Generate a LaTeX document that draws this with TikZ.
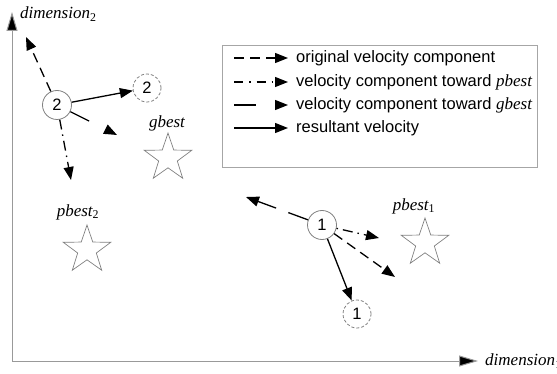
\documentclass[tikz,border=0pt]{standalone}
\usepackage{fontspec}
\setmainfont{Liberation Sans}
\newfontfamily\tms{Liberation Serif}
\usetikzlibrary{arrows.meta,shapes.geometric}
\tikzset{
  x=1pt, y=-1pt,
  axisline/.style={draw=gray!80, line width=1pt, -{Triangle[length=19pt,width=11pt,fill=black]}},
  particle/.style={circle, draw=gray, line width=0.8pt, fill=white, minimum size=29pt, inner sep=0pt, font=\fontsize{16.5}{18}\selectfont},
  ghost/.style={particle, dashed, dash pattern=on 3pt off 2pt, minimum size=28pt},
  beststar/.style={star, star points=5, star point ratio=2.55, draw=gray, line width=0.7pt, minimum size=50pt, inner sep=0pt},
  itlab/.style={font=\fontsize{17}{19}\selectfont\tms\itshape},
  vec/.style={line width=1.3pt, -{Triangle[length=13pt,width=10pt]}},
  origv/.style={vec, dash pattern=on 10pt off 6pt},
  pbv/.style={vec, dash pattern=on 10pt off 5pt on 1.5pt off 5pt},
  gbv/.style={vec, dash pattern=on 21pt off 13pt},
  resv/.style={vec},
  legtext/.style={anchor=west, inner sep=0pt, font=\fontsize{16.5}{18}\selectfont},
}
\begin{document}
\begin{tikzpicture}
\useasboundingbox (0,0) rectangle (557,374);
% axes
\coordinate (origin) at (12,361);
\coordinate (ytip) at (12,12);
\coordinate (xtip) at (478,361);
\draw[axisline] (origin) -- (ytip);
\draw[axisline] (origin) -- (xtip);
\node[itlab, anchor=west, inner sep=0pt] (ylab) at (20,14) {dimension\textsubscript{\upshape 2}};
\node[itlab, anchor=west, inner sep=0pt] (xlab) at (485,361) {dimension\textsubscript{\upshape 1}};

% stars
\node[beststar] (gb) at (168,158) {};
\node[itlab] (gblab) at (167,123) {gbest};
\node[beststar] (pb2) at (87,250) {};
\node[itlab] (pb2lab) at (78,212) {pbest\textsubscript{\upshape 2}};
\node[beststar] (pb1) at (425,243) {};
\node[itlab] (pb1lab) at (414,206) {pbest\textsubscript{\upshape 1}};

% particle 2
\node[particle] (p2) at (57,105) {2};
\node[ghost] (n2) at (147,88) {2};
\coordinate (o2) at (26,37);
\coordinate (pb2t) at (71,180);
\coordinate (gb2t) at (117,135);
\draw[origv] (p2) -- (o2);
\draw[pbv] (p2) -- (pb2t);
\draw[gbv, dash pattern=on 21pt off 22pt] (p2) -- (gb2t);
\draw[resv] (p2) -- (n2);

% particle 1
\node[particle] (p1) at (322,225) {1};
\node[ghost] (n1) at (357,314) {1};
\coordinate (o1) at (395,277);
\coordinate (pb1t) at (379,238);
\coordinate (gb1t) at (246,197);
\draw[origv] (p1) -- (o1);
\draw[pbv, dash pattern=on 1.5pt off 5pt on 10pt off 5pt] (p1) -- (pb1t);
\draw[gbv] (p1) -- (gb1t);
\draw[resv] (p1) -- (n1);

% legend
\node[draw=gray!70, line width=0.8pt, minimum width=315pt, minimum height=122pt, anchor=north west, inner sep=0pt] (legend) at (222,45) {};
\coordinate (la1) at (234,58);  \coordinate (lb1) at (288,58);
\coordinate (la2) at (234,82);  \coordinate (lb2) at (288,82);
\coordinate (la3) at (234,105); \coordinate (lb3) at (288,105);
\coordinate (la4) at (234,128); \coordinate (lb4) at (288,128);
\draw[origv] (la1) -- (lb1);
\draw[vec, dash pattern=on 9pt off 6pt on 1.5pt off 6pt] (la2) -- (lb2);
\draw[vec, dash pattern=on 22pt off 30pt] (la3) -- (lb3);
\draw[resv] (la4) -- (lb4);
\node[legtext] (t1) at (296,58) {original velocity component};
\node[legtext] (t2) at (296,82) {velocity component toward {\fontsize{17}{19}\selectfont\tms\itshape pbest}};
\node[legtext] (t3) at (296,105) {velocity component toward {\fontsize{17}{19}\selectfont\tms\itshape gbest}};
\node[legtext] (t4) at (296,128) {resultant velocity};
\end{tikzpicture}
\end{document}
